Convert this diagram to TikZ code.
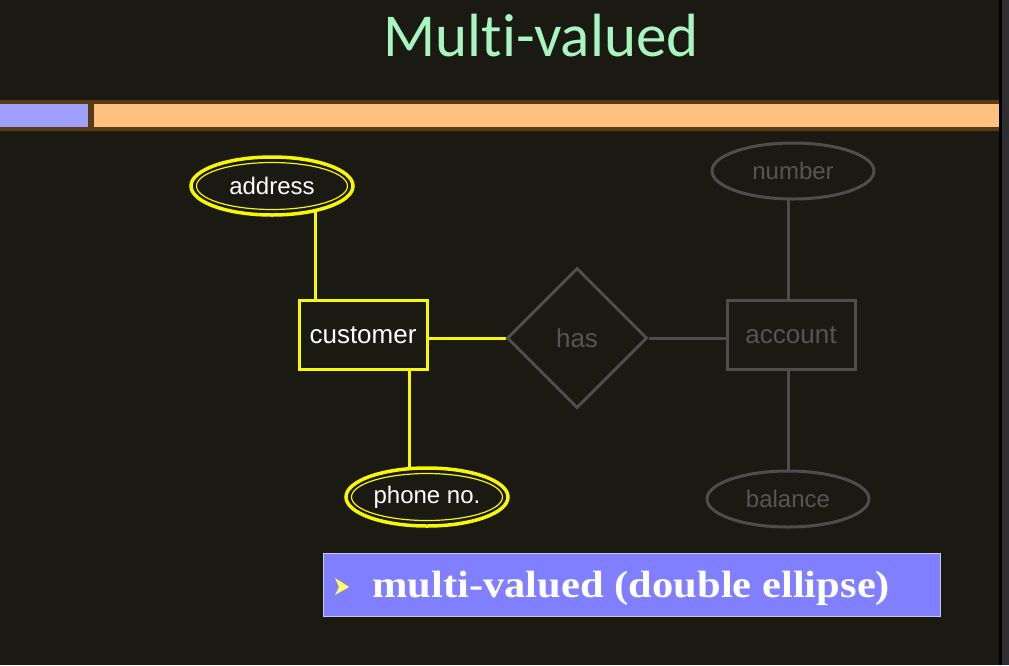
\documentclass[tikz,border=0pt]{standalone}
\usepackage{fontspec}
\setmainfont{Liberation Sans}
\newfontfamily\titlefont[Ligatures={NoCommon}]{Carlito}
\newfontfamily\boxfont[FakeStretch=1.12]{Liberation Serif}
\usetikzlibrary{shapes.geometric}
\definecolor{bg}{HTML}{1B1A12}
\definecolor{hl}{HTML}{F8F800}
\definecolor{dim}{HTML}{4D4D4D}
\definecolor{dimtext}{HTML}{555555}
\definecolor{barbrown}{HTML}{5A3A14}
\definecolor{barorange}{HTML}{FFC080}
\definecolor{barpurple}{HTML}{A0A0FF}
\definecolor{boxblue}{HTML}{7F7FFF}
\definecolor{boxedge}{HTML}{C8C8E0}
\definecolor{titlecol}{HTML}{A8F5C0}
\definecolor{edgegray}{HTML}{2E2E30}
\definecolor{bulletyellow}{HTML}{FFFF60}
\pgfdeclarelayer{bglayer}
\pgfsetlayers{bglayer,main}
\begin{document}
\begin{tikzpicture}[x=1pt,y=-1pt,
  hlent/.style={draw=hl,fill=bg,line width=3pt,rectangle,minimum width=128pt,minimum height=69pt,inner sep=0pt,text=white,font=\fontsize{26}{30}\selectfont},
  dment/.style={draw=dim,fill=bg,line width=3pt,rectangle,minimum width=128pt,minimum height=69pt,inner sep=0pt,text=dimtext,font=\fontsize{26}{30}\selectfont},
  dmattr/.style={draw=dim,fill=bg,line width=3pt,ellipse,minimum width=162pt,minimum height=56pt,inner sep=0pt,text=dimtext,font=\fontsize{24}{28}\selectfont},
  mvattr/.style={draw=hl,fill=bg,line width=3.5pt,ellipse,minimum width=162pt,minimum height=58pt,inner sep=0pt,text=white,font=\fontsize{24}{28}\selectfont},
  inring/.style={draw=hl,line width=1.2pt,ellipse,minimum width=151pt,minimum height=47pt,inner sep=0pt},
  dmrel/.style={draw=dim,fill=bg,line width=3pt,diamond,minimum width=140pt,minimum height=140pt,inner sep=0pt,text=dimtext,font=\fontsize{26}{30}\selectfont},
  hlline/.style={draw=hl,line width=3pt},
  dmline/.style={draw=dim,line width=3pt}
]
\useasboundingbox (0,0) rectangle (1009,665);
\begin{pgfonlayer}{bglayer}
\fill[bg] (0,0) rectangle (1009,665);
\fill[black] (999,0) rectangle (1002,665);
\fill[edgegray] (1002,0) rectangle (1009,665);
\end{pgfonlayer}
% title
\node[font=\titlefont\fontsize{61}{70}\selectfont,text=titlecol,anchor=base] (title) at (541,56) {Multi-valued};
% bar
\fill[barbrown] (0,100) rectangle (999,131);
\fill[barpurple] (0,104) rectangle (88,127);
\fill[barorange] (94,104) rectangle (999,127);
% entities
\node[hlent] (customer) at (363,335) {customer};
\node[dment] (account) at (791,335) {account};
\node[dmrel] (has) at (577,338) {has};
% attributes
\node[mvattr] (address) at (272,186) {address};
\node[inring] (addressin) at (272,186) {};
\node[mvattr] (phone) at (427,497) {phone no.};
\node[inring] (phonein) at (427,497) {};
\node[dmattr] (number) at (793,171) {number};
\node[dmattr] (balance) at (788,499) {balance};
% connectors (behind the shapes)
\coordinate (cu) at ([xshift=18pt]customer.north west);
\coordinate (cb) at ([xshift=-19pt]customer.south east);
\coordinate (ac) at ([xshift=-3pt]account.north);
\begin{pgfonlayer}{bglayer}
\draw[hlline] (cu) -- (cu |- address.center);
\draw[hlline] (customer.east |- has.west) -- (has.west);
\draw[hlline] (cb) -- (cb |- phone.center);
\draw[dmline] (has.east) -- (has.east -| account.west);
\draw[dmline] (ac) -- (ac |- number.center);
\draw[dmline] (account.south -| ac) -- (balance.center);
\end{pgfonlayer}
% bottom box
\node[draw=boxedge,fill=boxblue,line width=1pt,minimum width=617pt,minimum height=63pt,inner sep=0pt] (note) at (631.5,584.5) {};
\node[anchor=base west,text=white,font=\boxfont\bfseries\fontsize{38}{44}\selectfont,inner sep=0pt] (notetext) at (372,597) {multi-valued (double ellipse)};
\fill[bulletyellow] (335,578) -- (349,587) -- (335,595) -- (339,587) -- cycle;
\end{tikzpicture}
\end{document}
